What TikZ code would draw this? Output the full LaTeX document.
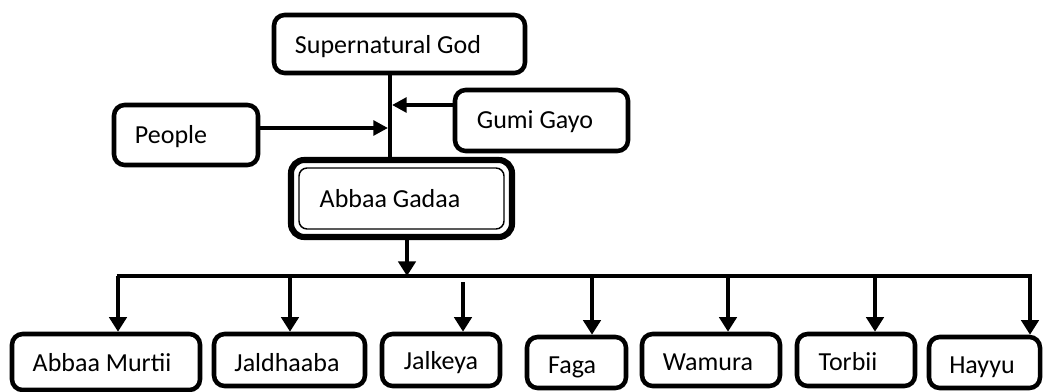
\documentclass[tikz,border=0pt]{standalone}
\usepackage{fontspec}
\setmainfont{Carlito}
\usetikzlibrary{arrows.meta,calc}
\begin{document}
\begin{tikzpicture}[x=0.75pt,y=-0.75pt,
  box/.style={draw=black,line width=3.4pt,rounded corners=8pt,fill=white,inner sep=0pt},
  lbl/.style={inner sep=0pt,font=\fontsize{19.5}{23}\selectfont},
  conn/.style={line width=3pt},
  arr/.style={line width=3pt,-{Triangle[width=13pt,length=11pt]}},
  sarr/.style={line width=3pt,-{Triangle[width=11pt,length=11pt]}}]
\useasboundingbox (0,0) rectangle (1048,392);
% boxes
\node[box,minimum width=251*0.75pt,minimum height=58*0.75pt] (sg) at (399.5,44) {};
\node[box,minimum width=173*0.75pt,minimum height=61*0.75pt] (gg) at (541.5,120.5) {};
\node[box,minimum width=144*0.75pt,minimum height=60*0.75pt] (pp) at (186,135) {};
\node[box,line width=4.6pt,rounded corners=10pt,minimum width=221*0.75pt,minimum height=77*0.75pt] (ag) at (401.5,198.5) {};
\node[draw=black,line width=1.1pt,rounded corners=6pt,inner sep=0pt,minimum width=205*0.75pt,minimum height=61*0.75pt] (agi) at (401.5,198.5) {};
\node[box,minimum width=188*0.75pt,minimum height=56*0.75pt] (am) at (106,362) {};
\node[box,minimum width=151*0.75pt,minimum height=52*0.75pt] (jd) at (289.5,360) {};
\node[box,minimum width=118*0.75pt,minimum height=52*0.75pt] (jk) at (441,360) {};
\node[box,minimum width=99*0.75pt,minimum height=51*0.75pt] (fg) at (576.5,362.5) {};
\node[box,minimum width=138*0.75pt,minimum height=52*0.75pt] (wm) at (711,360) {};
\node[box,minimum width=118*0.75pt,minimum height=52*0.75pt] (tb) at (856,360) {};
\node[box,minimum width=111*0.75pt,minimum height=51*0.75pt] (hy) at (984.5,362.5) {};
% labels
\node[lbl] (tsg) at (388,47) {Supernatural God};
\node[lbl] (tgg) at (535,122) {Gumi Gayo};
\node[lbl] (tpp) at (171,137) {People};
\node[lbl] (tag) at (390,199) {Abbaa Gadaa};
\node[lbl] (tam) at (102,363) {Abbaa Murtii};
\node[lbl] (tjd) at (287,363) {Jaldhaaba};
\node[lbl] (tjk) at (441,363) {Jalkeya};
\node[lbl] (tfg) at (572,367) {Faga};
\node[lbl] (twm) at (708,362) {Wamura};
\node[lbl] (ttb) at (848,362) {Torbii};
\node[lbl] (thy) at (982,367) {Hayyu};
% coordinates
\coordinate (sp) at (390,0);
\coordinate (bus) at (0,276);
\coordinate (xam) at (118,0);
\coordinate (xjd) at (290,0);
\coordinate (xjk) at (463,0);
\coordinate (xfg) at (592,0);
\coordinate (xwm) at (728,0);
\coordinate (xtb) at (875,0);
\coordinate (xhy) at (1030,0);
\coordinate (xag) at (407,0);
% connectors
\draw[conn] (sg.south -| sp) -- (ag.north -| sp);
\draw[sarr] ($(gg.west)+(0,-15.5)$) -- ($(sp |- gg.west)+(2,-15.5)$);
\draw[sarr] ($(pp.east)+(0,-7)$) -- ($(sp |- pp.east)+(-2,-7)$);
\draw[arr] (ag.south -| xag) -- (bus -| xag);
\draw[conn] ($(bus -| xam)+(-1.5,0)$) -- ($(bus -| xhy)+(1.5,0)$);
\draw[arr] (bus -| xam) -- (am.north -| xam);
\draw[arr] (bus -| xjd) -- (jd.north -| xjd);
\draw[arr] ($(bus -| xjk)+(0,6)$) -- (jk.north -| xjk);
\draw[arr] (bus -| xfg) -- (fg.north -| xfg);
\draw[arr] (bus -| xwm) -- (wm.north -| xwm);
\draw[arr] (bus -| xtb) -- (tb.north -| xtb);
\draw[arr] (bus -| xhy) -- (hy.north -| xhy);
\end{tikzpicture}
\end{document}
